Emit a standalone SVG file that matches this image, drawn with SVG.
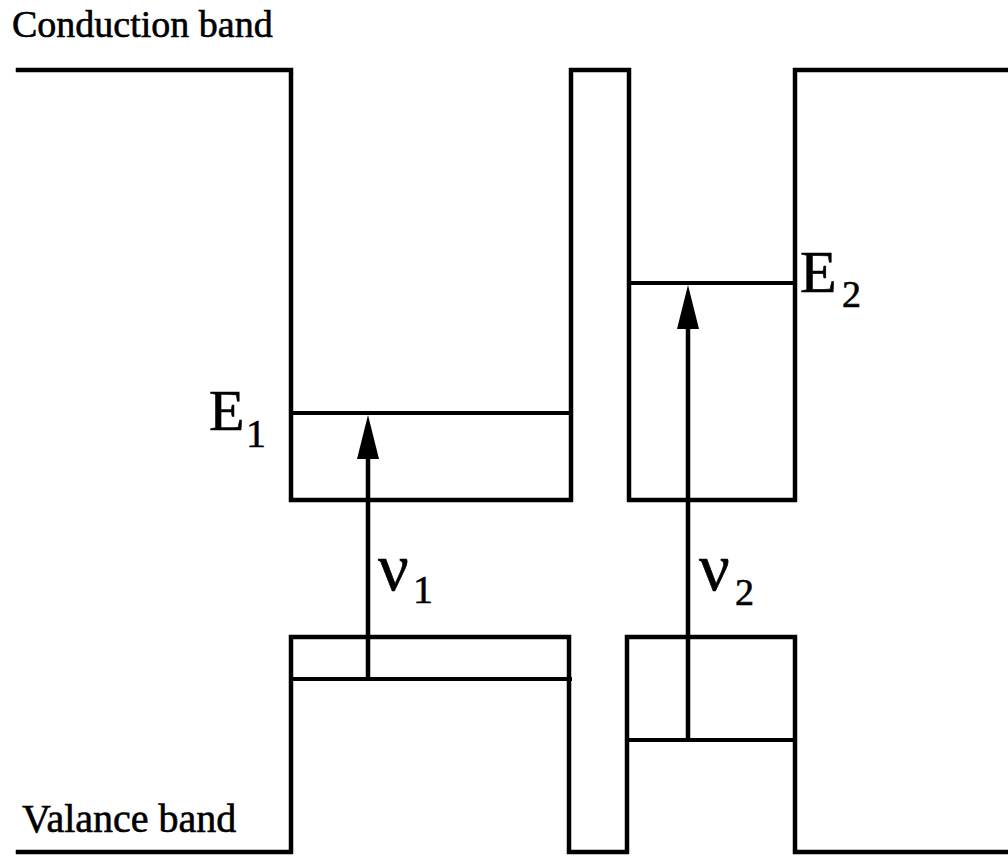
<svg xmlns="http://www.w3.org/2000/svg" width="1008" height="858" viewBox="0 0 1008 858">
  <style>
    .band { fill: none; stroke: #000; stroke-width: 4.5; stroke-linejoin: miter; stroke-linecap: square; }
    .level { fill: none; stroke: #000; stroke-width: 4; }
    .arrow { fill: none; stroke: #000; stroke-width: 4.5; }
    .lbl { font-family: "Liberation Serif", "Times New Roman", serif; fill: #000; stroke: #000; stroke-width: 0.6; }
  </style>
  <defs>
    <marker id="head" markerUnits="userSpaceOnUse" viewBox="0 -11 44 22" markerWidth="44" markerHeight="22" refX="0" refY="0" orient="auto">
      <path d="M0,-11 L44,0 L0,11 Z" fill="#000"/>
    </marker>
  </defs>
  <rect width="1008" height="858" fill="#fff"/>

  <g id="conduction-band">
    <path class="band" d="M18,70 H291 V500 H571 V70 H629 V500 H795 V70 H1008"/>
  </g>
  <g id="valence-band">
    <path class="band" d="M18,852 H291 V637 H569 V852 H627 V637 H795 V852 H1008"/>
  </g>
  <g id="levels">
    <line class="level" x1="291" y1="413" x2="571" y2="413"/>
    <line class="level" x1="629" y1="283" x2="795" y2="283"/>
    <line class="level" x1="291" y1="679" x2="572" y2="679"/>
    <line class="level" x1="627" y1="740" x2="795" y2="740"/>
  </g>
  <g id="connectors">
    <line class="arrow" x1="368" y1="679" x2="368" y2="459" marker-end="url(#head)"/>
    <line class="arrow" x1="688" y1="740" x2="688" y2="329" marker-end="url(#head)"/>
  </g>
  <g id="labels">
    <text class="lbl" x="12" y="37" font-size="38">Conduction band</text>
    <text class="lbl" x="22" y="832" font-size="40">Valance band</text>
    <text class="lbl" x="209" y="430" font-size="58">E</text>
    <text class="lbl" x="246" y="447" font-size="40">1</text>
    <text class="lbl" x="800" y="292" font-size="60">E</text>
    <text class="lbl" x="842" y="307" font-size="38">2</text>
    <text class="lbl" x="378" y="590" font-size="68">ν</text>
    <text class="lbl" x="413" y="603" font-size="40">1</text>
    <text class="lbl" x="699" y="590" font-size="68">ν</text>
    <text class="lbl" x="735" y="605" font-size="38">2</text>
  </g>
</svg>
